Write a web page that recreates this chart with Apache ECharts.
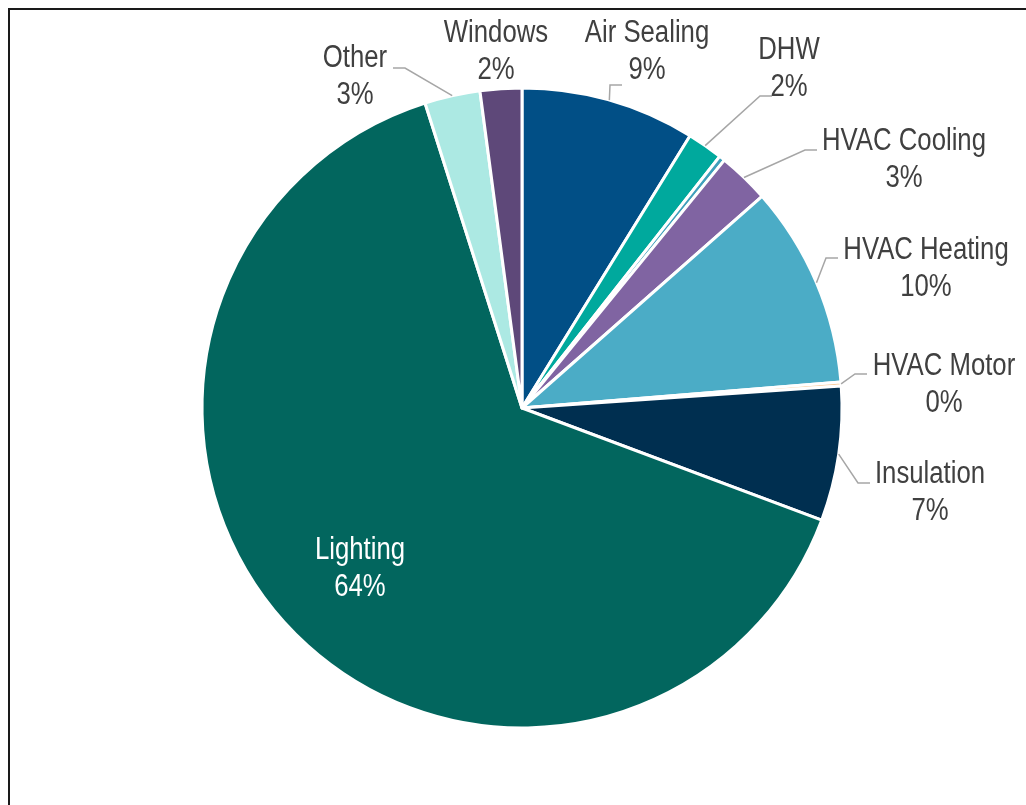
<!DOCTYPE html>
<html>
<head>
<meta charset="utf-8">
<script src="https://cdn.jsdelivr.net/npm/echarts@6/dist/echarts.min.js"></script>
<style>
  html, body { margin: 0; padding: 0; background: #fff; }
  #chart { width: 1026px; height: 805px; }
</style>
</head>
<body>
<div id="chart"></div>
<script>
// Share of savings by measure category (percent), clockwise from 12 o'clock
const categories = ['Air Sealing', 'DHW', 'Ducts', 'HVAC Cooling', 'HVAC Heating',
                    'HVAC Motor', 'Insulation', 'Lighting', 'Other', 'Windows'];
const shares = [8.8, 1.8, 0.3, 2.6, 10.2, 0.2, 6.8, 64.4, 2.8, 2.1];
// categories whose label is printed
const labelled = [true, true, false, true, true, true, true, true, true, true];

const colors = ['#014f86', '#00a99d', '#3f9fbb', '#8064a2', '#4bacc6',
                '#f8c896', '#002f50', '#02665e', '#ace9e3', '#5e4879'];

// label block centres for each slice
const labelAnchors = [
  [647, 52], [789, 69], null, [904, 160], [926, 269],
  [944, 385], [930, 493], [360, 569], [355, 77], [496, 52]
];
// where each leader line meets its label (null = no leader), and which way its
// short horizontal run points (+1 rightwards, -1 leftwards)
const leaderEnds = [
  [622, 85, 1], [772, 96, 1], null, [817, 150, 1], [838, 258, 1],
  [867, 374, 1], [870, 483, 1], null, [393, 68, -1], null
];

const FONT_FAMILY = "'Liberation Sans', Arial, sans-serif";
const FONT_SIZE = 31;
const LINE_HEIGHT = 37;
const NARROW = 0.83;   // horizontal squeeze for a condensed face
const LEADER_RUN = 12;

const chart = echarts.init(document.getElementById('chart'), null, { renderer: 'canvas' });

const frame = {
  type: 'rect',
  shape: { x: 9, y: 9, width: 1100, height: 900 },
  style: { fill: 'none', stroke: '#1a1a1a', lineWidth: 2 },
  silent: true,
  z: 10
};

chart.setOption({
  animation: false,
  backgroundColor: '#ffffff',
  series: [{
    type: 'pie',
    center: [522, 408],
    radius: [0, 320],
    startAngle: 90,
    clockwise: true,
    label: { show: false },
    labelLine: { show: false },
    itemStyle: { borderColor: '#ffffff', borderWidth: 3 },
    data: categories.map((name, i) => ({
      name,
      value: shares[i],
      itemStyle: { color: colors[i] }
    }))
  }]
});

// Labels and leader lines, placed from the pie's own slice layout
const pieData = chart.getModel().getSeriesByIndex(0).getData();
const graphics = [frame];

categories.forEach((name, i) => {
  if (!labelled[i]) return;
  const a = labelAnchors[i];
  const isInside = name === 'Lighting';
  graphics.push({
    type: 'text',
    x: a[0],
    y: a[1],
    scaleX: NARROW,
    silent: true,
    z: 5,
    style: {
      text: name + '\n' + Math.round(shares[i]) + '%',
      fontFamily: FONT_FAMILY,
      fontSize: FONT_SIZE,
      lineHeight: LINE_HEIGHT,
      fill: isInside ? '#ffffff' : '#404040',
      align: 'center',
      verticalAlign: 'middle'
    }
  });

  const end = leaderEnds[i];
  if (!end) return;
  const lay = pieData.getItemLayout(i);
  const mid = (lay.startAngle + lay.endAngle) / 2;
  const start = [lay.cx + lay.r * Math.cos(mid), lay.cy + lay.r * Math.sin(mid)];
  const elbow = [end[0] - end[2] * LEADER_RUN, end[1]];
  graphics.push({
    type: 'polyline',
    silent: true,
    z: 4,
    shape: { points: [start, elbow, [end[0], end[1]]] },
    style: { stroke: '#a6a6a6', lineWidth: 1.5, fill: null }
  });
});

chart.setOption({ graphic: graphics });
</script>
</body>
</html>
